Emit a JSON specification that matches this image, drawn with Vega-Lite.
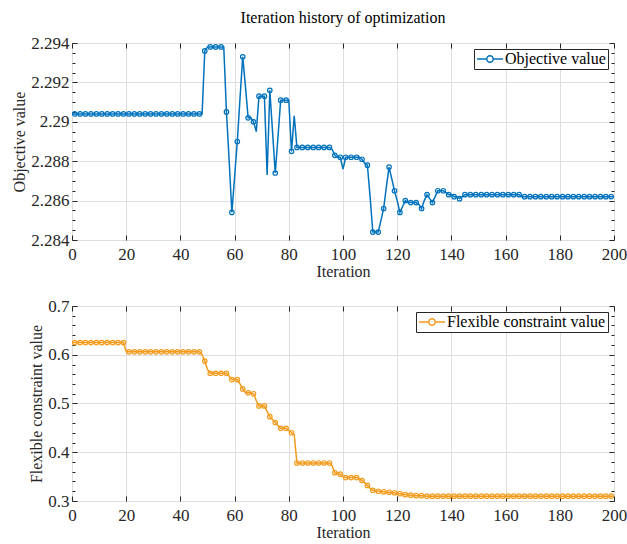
{
  "$schema": "https://vega.github.io/schema/vega-lite/v6.json",
  "padding": {"left": 11, "top": 9, "right": 0, "bottom": 2},
  "config": {
    "font": "'Liberation Serif', 'Times New Roman', Times, serif",
    "view": {"stroke": "#262626", "strokeWidth": 1},
    "axis": {
      "labelFont": "'Liberation Serif', 'Times New Roman', Times, serif",
      "titleFont": "'Liberation Serif', 'Times New Roman', Times, serif",
      "labelFontSize": 17,
      "titleFontSize": 16,
      "titleFontWeight": "normal",
      "labelColor": "#262626",
      "titleColor": "#262626",
      "domain": false,
      "tickColor": "#262626",
      "tickWidth": 1,
      "gridColor": "#dedede",
      "gridWidth": 1
    },
    "legend": {
      "labelFont": "'Liberation Serif', 'Times New Roman', Times, serif",
      "labelFontSize": 16,
      "labelColor": "#000000"
    },
    "title": {"font": "'Liberation Serif', 'Times New Roman', Times, serif"},
    "concat": {"spacing": 16}
  },
  "datasets": {
    "objective": [
      {"iter": 0, "value": 2.2904}, {"iter": 1, "value": 2.2904}, {"iter": 2, "value": 2.2904}, {"iter": 3, "value": 2.2904}, {"iter": 4, "value": 2.2904},
      {"iter": 5, "value": 2.2904}, {"iter": 6, "value": 2.2904}, {"iter": 7, "value": 2.2904}, {"iter": 8, "value": 2.2904}, {"iter": 9, "value": 2.2904},
      {"iter": 10, "value": 2.2904}, {"iter": 11, "value": 2.2904}, {"iter": 12, "value": 2.2904}, {"iter": 13, "value": 2.2904}, {"iter": 14, "value": 2.2904},
      {"iter": 15, "value": 2.2904}, {"iter": 16, "value": 2.2904}, {"iter": 17, "value": 2.2904}, {"iter": 18, "value": 2.2904}, {"iter": 19, "value": 2.2904},
      {"iter": 20, "value": 2.2904}, {"iter": 21, "value": 2.2904}, {"iter": 22, "value": 2.2904}, {"iter": 23, "value": 2.2904}, {"iter": 24, "value": 2.2904},
      {"iter": 25, "value": 2.2904}, {"iter": 26, "value": 2.2904}, {"iter": 27, "value": 2.2904}, {"iter": 28, "value": 2.2904}, {"iter": 29, "value": 2.2904},
      {"iter": 30, "value": 2.2904}, {"iter": 31, "value": 2.2904}, {"iter": 32, "value": 2.2904}, {"iter": 33, "value": 2.2904}, {"iter": 34, "value": 2.2904},
      {"iter": 35, "value": 2.2904}, {"iter": 36, "value": 2.2904}, {"iter": 37, "value": 2.2904}, {"iter": 38, "value": 2.2904}, {"iter": 39, "value": 2.2904},
      {"iter": 40, "value": 2.2904}, {"iter": 41, "value": 2.2904}, {"iter": 42, "value": 2.2904}, {"iter": 43, "value": 2.2904}, {"iter": 44, "value": 2.2904},
      {"iter": 45, "value": 2.2904}, {"iter": 46, "value": 2.2904}, {"iter": 47, "value": 2.2904}, {"iter": 48, "value": 2.2904}, {"iter": 49, "value": 2.2936},
      {"iter": 50, "value": 2.2938}, {"iter": 51, "value": 2.2938}, {"iter": 52, "value": 2.2938}, {"iter": 53, "value": 2.2938}, {"iter": 54, "value": 2.2938},
      {"iter": 55, "value": 2.2938}, {"iter": 56, "value": 2.2938}, {"iter": 57, "value": 2.2905}, {"iter": 58, "value": 2.2880}, {"iter": 59, "value": 2.2854},
      {"iter": 60, "value": 2.2872}, {"iter": 61, "value": 2.2890}, {"iter": 62, "value": 2.2912}, {"iter": 63, "value": 2.2933}, {"iter": 64, "value": 2.2918},
      {"iter": 65, "value": 2.2902}, {"iter": 66, "value": 2.2902}, {"iter": 67, "value": 2.2900}, {"iter": 68, "value": 2.2895}, {"iter": 69, "value": 2.2913},
      {"iter": 70, "value": 2.2913}, {"iter": 71, "value": 2.2913}, {"iter": 72, "value": 2.2873}, {"iter": 73, "value": 2.2916}, {"iter": 74, "value": 2.2895},
      {"iter": 75, "value": 2.2874}, {"iter": 76, "value": 2.2892}, {"iter": 77, "value": 2.2911}, {"iter": 78, "value": 2.2911}, {"iter": 79, "value": 2.2911},
      {"iter": 80, "value": 2.2911}, {"iter": 81, "value": 2.2885}, {"iter": 82, "value": 2.2903}, {"iter": 83, "value": 2.2887}, {"iter": 84, "value": 2.2887},
      {"iter": 85, "value": 2.2887}, {"iter": 86, "value": 2.2887}, {"iter": 87, "value": 2.2887}, {"iter": 88, "value": 2.2887}, {"iter": 89, "value": 2.2887},
      {"iter": 90, "value": 2.2887}, {"iter": 91, "value": 2.2887}, {"iter": 92, "value": 2.2887}, {"iter": 93, "value": 2.2887}, {"iter": 94, "value": 2.2887},
      {"iter": 95, "value": 2.2887}, {"iter": 96, "value": 2.2886}, {"iter": 97, "value": 2.2883}, {"iter": 98, "value": 2.2882}, {"iter": 99, "value": 2.2882},
      {"iter": 100, "value": 2.2876}, {"iter": 101, "value": 2.2882}, {"iter": 102, "value": 2.2882}, {"iter": 103, "value": 2.2882}, {"iter": 104, "value": 2.2882},
      {"iter": 105, "value": 2.2882}, {"iter": 106, "value": 2.2882}, {"iter": 107, "value": 2.2881}, {"iter": 108, "value": 2.2879}, {"iter": 109, "value": 2.2878},
      {"iter": 110, "value": 2.2862}, {"iter": 111, "value": 2.2844}, {"iter": 112, "value": 2.2844}, {"iter": 113, "value": 2.2844}, {"iter": 114, "value": 2.2850},
      {"iter": 115, "value": 2.2856}, {"iter": 116, "value": 2.2867}, {"iter": 117, "value": 2.2877}, {"iter": 118, "value": 2.2871}, {"iter": 119, "value": 2.2865},
      {"iter": 120, "value": 2.2860}, {"iter": 121, "value": 2.2854}, {"iter": 122, "value": 2.2857}, {"iter": 123, "value": 2.2860}, {"iter": 124, "value": 2.2859},
      {"iter": 125, "value": 2.2859}, {"iter": 126, "value": 2.2859}, {"iter": 127, "value": 2.2859}, {"iter": 128, "value": 2.2858}, {"iter": 129, "value": 2.2856},
      {"iter": 130, "value": 2.2860}, {"iter": 131, "value": 2.2863}, {"iter": 132, "value": 2.2861}, {"iter": 133, "value": 2.2859}, {"iter": 134, "value": 2.2862},
      {"iter": 135, "value": 2.2865}, {"iter": 136, "value": 2.2865}, {"iter": 137, "value": 2.2865}, {"iter": 138, "value": 2.2864}, {"iter": 139, "value": 2.2863},
      {"iter": 140, "value": 2.2863}, {"iter": 141, "value": 2.2862}, {"iter": 142, "value": 2.2862}, {"iter": 143, "value": 2.2861}, {"iter": 144, "value": 2.2862},
      {"iter": 145, "value": 2.2863}, {"iter": 146, "value": 2.2863}, {"iter": 147, "value": 2.2863}, {"iter": 148, "value": 2.2863}, {"iter": 149, "value": 2.2863},
      {"iter": 150, "value": 2.2863}, {"iter": 151, "value": 2.2863}, {"iter": 152, "value": 2.2863}, {"iter": 153, "value": 2.2863}, {"iter": 154, "value": 2.2863},
      {"iter": 155, "value": 2.2863}, {"iter": 156, "value": 2.2863}, {"iter": 157, "value": 2.2863}, {"iter": 158, "value": 2.2863}, {"iter": 159, "value": 2.2863},
      {"iter": 160, "value": 2.2863}, {"iter": 161, "value": 2.2863}, {"iter": 162, "value": 2.2863}, {"iter": 163, "value": 2.2863}, {"iter": 164, "value": 2.2863},
      {"iter": 165, "value": 2.2863}, {"iter": 166, "value": 2.2862}, {"iter": 167, "value": 2.2862}, {"iter": 168, "value": 2.2862}, {"iter": 169, "value": 2.2862},
      {"iter": 170, "value": 2.2862}, {"iter": 171, "value": 2.2862}, {"iter": 172, "value": 2.2862}, {"iter": 173, "value": 2.2862}, {"iter": 174, "value": 2.2862},
      {"iter": 175, "value": 2.2862}, {"iter": 176, "value": 2.2862}, {"iter": 177, "value": 2.2862}, {"iter": 178, "value": 2.2862}, {"iter": 179, "value": 2.2862},
      {"iter": 180, "value": 2.2862}, {"iter": 181, "value": 2.2862}, {"iter": 182, "value": 2.2862}, {"iter": 183, "value": 2.2862}, {"iter": 184, "value": 2.2862},
      {"iter": 185, "value": 2.2862}, {"iter": 186, "value": 2.2862}, {"iter": 187, "value": 2.2862}, {"iter": 188, "value": 2.2862}, {"iter": 189, "value": 2.2862},
      {"iter": 190, "value": 2.2862}, {"iter": 191, "value": 2.2862}, {"iter": 192, "value": 2.2862}, {"iter": 193, "value": 2.2862}, {"iter": 194, "value": 2.2862},
      {"iter": 195, "value": 2.2862}, {"iter": 196, "value": 2.2862}, {"iter": 197, "value": 2.2862}, {"iter": 198, "value": 2.2862}, {"iter": 199, "value": 2.2862},
      {"iter": 200, "value": 2.2862}
    ],
    "constraint": [
      {"iter": 0, "value": 0.625}, {"iter": 1, "value": 0.625}, {"iter": 2, "value": 0.625}, {"iter": 3, "value": 0.625}, {"iter": 4, "value": 0.625},
      {"iter": 5, "value": 0.625}, {"iter": 6, "value": 0.625}, {"iter": 7, "value": 0.625}, {"iter": 8, "value": 0.625}, {"iter": 9, "value": 0.625},
      {"iter": 10, "value": 0.625}, {"iter": 11, "value": 0.625}, {"iter": 12, "value": 0.625}, {"iter": 13, "value": 0.625}, {"iter": 14, "value": 0.625},
      {"iter": 15, "value": 0.625}, {"iter": 16, "value": 0.625}, {"iter": 17, "value": 0.625}, {"iter": 18, "value": 0.625}, {"iter": 19, "value": 0.625},
      {"iter": 20, "value": 0.606}, {"iter": 21, "value": 0.606}, {"iter": 22, "value": 0.606}, {"iter": 23, "value": 0.606}, {"iter": 24, "value": 0.606},
      {"iter": 25, "value": 0.606}, {"iter": 26, "value": 0.606}, {"iter": 27, "value": 0.606}, {"iter": 28, "value": 0.606}, {"iter": 29, "value": 0.606},
      {"iter": 30, "value": 0.606}, {"iter": 31, "value": 0.606}, {"iter": 32, "value": 0.606}, {"iter": 33, "value": 0.606}, {"iter": 34, "value": 0.606},
      {"iter": 35, "value": 0.606}, {"iter": 36, "value": 0.606}, {"iter": 37, "value": 0.606}, {"iter": 38, "value": 0.606}, {"iter": 39, "value": 0.606},
      {"iter": 40, "value": 0.606}, {"iter": 41, "value": 0.606}, {"iter": 42, "value": 0.606}, {"iter": 43, "value": 0.606}, {"iter": 44, "value": 0.606},
      {"iter": 45, "value": 0.606}, {"iter": 46, "value": 0.606}, {"iter": 47, "value": 0.606}, {"iter": 48, "value": 0.600}, {"iter": 49, "value": 0.587},
      {"iter": 50, "value": 0.570}, {"iter": 51, "value": 0.562}, {"iter": 52, "value": 0.562}, {"iter": 53, "value": 0.562}, {"iter": 54, "value": 0.562},
      {"iter": 55, "value": 0.562}, {"iter": 56, "value": 0.562}, {"iter": 57, "value": 0.562}, {"iter": 58, "value": 0.556}, {"iter": 59, "value": 0.549},
      {"iter": 60, "value": 0.549}, {"iter": 61, "value": 0.549}, {"iter": 62, "value": 0.540}, {"iter": 63, "value": 0.530}, {"iter": 64, "value": 0.522},
      {"iter": 65, "value": 0.522}, {"iter": 66, "value": 0.522}, {"iter": 67, "value": 0.520}, {"iter": 68, "value": 0.506}, {"iter": 69, "value": 0.495},
      {"iter": 70, "value": 0.495}, {"iter": 71, "value": 0.495}, {"iter": 72, "value": 0.484}, {"iter": 73, "value": 0.473}, {"iter": 74, "value": 0.467},
      {"iter": 75, "value": 0.461}, {"iter": 76, "value": 0.455}, {"iter": 77, "value": 0.449}, {"iter": 78, "value": 0.449}, {"iter": 79, "value": 0.449},
      {"iter": 80, "value": 0.445}, {"iter": 81, "value": 0.440}, {"iter": 82, "value": 0.436}, {"iter": 83, "value": 0.378}, {"iter": 84, "value": 0.378},
      {"iter": 85, "value": 0.378}, {"iter": 86, "value": 0.378}, {"iter": 87, "value": 0.378}, {"iter": 88, "value": 0.378}, {"iter": 89, "value": 0.378},
      {"iter": 90, "value": 0.378}, {"iter": 91, "value": 0.378}, {"iter": 92, "value": 0.378}, {"iter": 93, "value": 0.378}, {"iter": 94, "value": 0.378},
      {"iter": 95, "value": 0.378}, {"iter": 96, "value": 0.372}, {"iter": 97, "value": 0.358}, {"iter": 98, "value": 0.357}, {"iter": 99, "value": 0.355},
      {"iter": 100, "value": 0.350}, {"iter": 101, "value": 0.348}, {"iter": 102, "value": 0.348}, {"iter": 103, "value": 0.348}, {"iter": 104, "value": 0.348},
      {"iter": 105, "value": 0.348}, {"iter": 106, "value": 0.346}, {"iter": 107, "value": 0.342}, {"iter": 108, "value": 0.338}, {"iter": 109, "value": 0.332},
      {"iter": 110, "value": 0.326}, {"iter": 111, "value": 0.322}, {"iter": 112, "value": 0.321}, {"iter": 113, "value": 0.320}, {"iter": 114, "value": 0.320},
      {"iter": 115, "value": 0.319}, {"iter": 116, "value": 0.318}, {"iter": 117, "value": 0.318}, {"iter": 118, "value": 0.317}, {"iter": 119, "value": 0.317},
      {"iter": 120, "value": 0.315}, {"iter": 121, "value": 0.315}, {"iter": 122, "value": 0.314}, {"iter": 123, "value": 0.313}, {"iter": 124, "value": 0.313},
      {"iter": 125, "value": 0.312}, {"iter": 126, "value": 0.311}, {"iter": 127, "value": 0.311}, {"iter": 128, "value": 0.311}, {"iter": 129, "value": 0.311},
      {"iter": 130, "value": 0.311}, {"iter": 131, "value": 0.310}, {"iter": 132, "value": 0.310}, {"iter": 133, "value": 0.310}, {"iter": 134, "value": 0.310},
      {"iter": 135, "value": 0.310}, {"iter": 136, "value": 0.310}, {"iter": 137, "value": 0.310}, {"iter": 138, "value": 0.310}, {"iter": 139, "value": 0.310},
      {"iter": 140, "value": 0.310}, {"iter": 141, "value": 0.310}, {"iter": 142, "value": 0.310}, {"iter": 143, "value": 0.310}, {"iter": 144, "value": 0.310},
      {"iter": 145, "value": 0.310}, {"iter": 146, "value": 0.310}, {"iter": 147, "value": 0.310}, {"iter": 148, "value": 0.310}, {"iter": 149, "value": 0.310},
      {"iter": 150, "value": 0.310}, {"iter": 151, "value": 0.310}, {"iter": 152, "value": 0.310}, {"iter": 153, "value": 0.310}, {"iter": 154, "value": 0.310},
      {"iter": 155, "value": 0.310}, {"iter": 156, "value": 0.310}, {"iter": 157, "value": 0.310}, {"iter": 158, "value": 0.310}, {"iter": 159, "value": 0.310},
      {"iter": 160, "value": 0.310}, {"iter": 161, "value": 0.310}, {"iter": 162, "value": 0.310}, {"iter": 163, "value": 0.310}, {"iter": 164, "value": 0.310},
      {"iter": 165, "value": 0.310}, {"iter": 166, "value": 0.310}, {"iter": 167, "value": 0.310}, {"iter": 168, "value": 0.310}, {"iter": 169, "value": 0.310},
      {"iter": 170, "value": 0.310}, {"iter": 171, "value": 0.310}, {"iter": 172, "value": 0.310}, {"iter": 173, "value": 0.310}, {"iter": 174, "value": 0.310},
      {"iter": 175, "value": 0.310}, {"iter": 176, "value": 0.310}, {"iter": 177, "value": 0.310}, {"iter": 178, "value": 0.310}, {"iter": 179, "value": 0.310},
      {"iter": 180, "value": 0.310}, {"iter": 181, "value": 0.310}, {"iter": 182, "value": 0.310}, {"iter": 183, "value": 0.310}, {"iter": 184, "value": 0.310},
      {"iter": 185, "value": 0.310}, {"iter": 186, "value": 0.310}, {"iter": 187, "value": 0.310}, {"iter": 188, "value": 0.310}, {"iter": 189, "value": 0.310},
      {"iter": 190, "value": 0.310}, {"iter": 191, "value": 0.310}, {"iter": 192, "value": 0.310}, {"iter": 193, "value": 0.310}, {"iter": 194, "value": 0.310},
      {"iter": 195, "value": 0.310}, {"iter": 196, "value": 0.310}, {"iter": 197, "value": 0.310}, {"iter": 198, "value": 0.310}, {"iter": 199, "value": 0.310},
      {"iter": 200, "value": 0.310}
    ]
  },
  "vconcat": [
    {
      "width": 542,
      "height": 197,
      "title": {"text": "Iteration history of optimization", "anchor": "middle", "fontSize": 16, "fontWeight": "normal", "color": "#000000", "offset": 8},
      "data": {"name": "objective"},
      "layer": [
        {
          "mark": {"type": "line", "strokeWidth": 1.5, "clip": true},
          "encoding": {
            "x": {"field": "iter", "type": "quantitative", "scale": {"domain": [0, 200], "nice": false},
                  "axis": {"orient": "bottom", "title": "Iteration", "values": [0, 20, 40, 60, 80, 100, 120, 140, 160, 180, 200], "tickSize": -5,
                           "labelFlush": false, "labelPadding": 11, "titlePadding": 1, "grid": true}},
            "y": {"field": "value", "type": "quantitative", "scale": {"domain": [2.284, 2.294], "nice": false, "zero": false},
                  "axis": {"orient": "left", "title": "Objective value", "titlePadding": 3,
                           "values": [2.284, 2.2845, 2.285, 2.2855, 2.286, 2.2865, 2.287, 2.2875, 2.288, 2.2885, 2.289, 2.2895, 2.29, 2.2905, 2.291, 2.2915, 2.292, 2.2925, 2.293, 2.2935, 2.294],
                           "labelExpr": "round(datum.value * 10000) % 20 == 0 ? format(datum.value, '.4~g') : ''",
                           "tickSize": {"condition": {"test": "round(datum.value * 10000) % 20 == 0", "value": -5}, "value": -3},
                           "gridOpacity": {"condition": {"test": "round(datum.value * 10000) % 20 == 0", "value": 1}, "value": 0},
                           "labelPadding": 8}},
            "color": {"datum": "Objective value", "type": "nominal", "scale": {"range": ["#0072BD"]},
                      "legend": {"title": null, "orient": "top-right", "offset": 6, "padding": 2, "strokeColor": "#262626", "fillColor": "#ffffff", "cornerRadius": 0,
                                 "symbolType": "M-2,0L-0.5,0M0.5,0L2,0M-0.5,0A0.5,0.5,0,1,1,0.5,0A0.5,0.5,0,1,1,-0.5,0",
                                 "symbolSize": 169, "symbolStrokeWidth": 1.5, "symbolFillColor": "transparent", "symbolOffset": 6, "labelOffset": 7}}
          }
        },
        {
          "transform": [{"filter": "datum.iter % 2 == 1"}],
          "mark": {"type": "point", "filled": false, "color": "#0072BD", "size": 20, "strokeWidth": 1.2, "opacity": 1, "clip": true},
          "encoding": {
            "x": {"field": "iter", "type": "quantitative", "scale": {"domain": [0, 200], "nice": false},
                  "axis": {"orient": "top", "title": null, "labels": false, "grid": false, "values": [0, 20, 40, 60, 80, 100, 120, 140, 160, 180, 200], "tickSize": -5}},
            "y": {"field": "value", "type": "quantitative", "scale": {"domain": [2.284, 2.294], "nice": false, "zero": false},
                  "axis": {"orient": "right", "title": null, "labels": false, "grid": false,
                           "values": [2.284, 2.2845, 2.285, 2.2855, 2.286, 2.2865, 2.287, 2.2875, 2.288, 2.2885, 2.289, 2.2895, 2.29, 2.2905, 2.291, 2.2915, 2.292, 2.2925, 2.293, 2.2935, 2.294],
                           "tickSize": {"condition": {"test": "round(datum.value * 10000) % 20 == 0", "value": -5}, "value": -3}}}
          }
        }
      ],
      "resolve": {"axis": {"x": "independent", "y": "independent"}}
    },
    {
      "width": 542,
      "height": 195,
      "data": {"name": "constraint"},
      "layer": [
        {
          "mark": {"type": "line", "strokeWidth": 1.5, "clip": true},
          "encoding": {
            "x": {"field": "iter", "type": "quantitative", "scale": {"domain": [0, 200], "nice": false},
                  "axis": {"orient": "bottom", "title": "Iteration", "values": [0, 20, 40, 60, 80, 100, 120, 140, 160, 180, 200], "tickSize": -5,
                           "labelFlush": false, "labelPadding": 11, "titlePadding": 1, "grid": true}},
            "y": {"field": "value", "type": "quantitative", "scale": {"domain": [0.3, 0.7], "nice": false, "zero": false},
                  "axis": {"orient": "left", "title": "Flexible constraint value", "titlePadding": 3,
                           "values": [0.3, 0.32, 0.34, 0.36, 0.38, 0.4, 0.42, 0.44, 0.46, 0.48, 0.5, 0.52, 0.54, 0.56, 0.58, 0.6, 0.62, 0.64, 0.66, 0.68, 0.7],
                           "labelExpr": "round(datum.value * 100) % 10 == 0 ? format(datum.value, '.1f') : ''",
                           "tickSize": {"condition": {"test": "round(datum.value * 100) % 10 == 0", "value": -5}, "value": -3},
                           "gridOpacity": {"condition": {"test": "round(datum.value * 100) % 10 == 0", "value": 1}, "value": 0},
                           "labelPadding": 8}},
            "color": {"datum": "Flexible constraint value", "type": "nominal", "scale": {"range": ["#F29B1D"]},
                      "legend": {"title": null, "orient": "top-right", "offset": 6, "padding": 2, "strokeColor": "#262626", "fillColor": "#ffffff", "cornerRadius": 0,
                                 "symbolType": "M-2,0L-0.5,0M0.5,0L2,0M-0.5,0A0.5,0.5,0,1,1,0.5,0A0.5,0.5,0,1,1,-0.5,0",
                                 "symbolSize": 169, "symbolStrokeWidth": 1.5, "symbolFillColor": "transparent", "symbolOffset": 6, "labelOffset": 7}}
          }
        },
        {
          "transform": [{"filter": "datum.iter % 2 == 1"}],
          "mark": {"type": "point", "filled": false, "color": "#F29B1D", "size": 20, "strokeWidth": 1.2, "opacity": 1, "clip": true},
          "encoding": {
            "x": {"field": "iter", "type": "quantitative", "scale": {"domain": [0, 200], "nice": false},
                  "axis": {"orient": "top", "title": null, "labels": false, "grid": false, "values": [0, 20, 40, 60, 80, 100, 120, 140, 160, 180, 200], "tickSize": -5}},
            "y": {"field": "value", "type": "quantitative", "scale": {"domain": [0.3, 0.7], "nice": false, "zero": false},
                  "axis": {"orient": "right", "title": null, "labels": false, "grid": false,
                           "values": [0.3, 0.32, 0.34, 0.36, 0.38, 0.4, 0.42, 0.44, 0.46, 0.48, 0.5, 0.52, 0.54, 0.56, 0.58, 0.6, 0.62, 0.64, 0.66, 0.68, 0.7],
                           "tickSize": {"condition": {"test": "round(datum.value * 100) % 10 == 0", "value": -5}, "value": -3}}}
          }
        }
      ],
      "resolve": {"axis": {"x": "independent", "y": "independent"}}
    }
  ],
  "resolve": {"scale": {"color": "independent"}, "legend": {"color": "independent"}}
}
